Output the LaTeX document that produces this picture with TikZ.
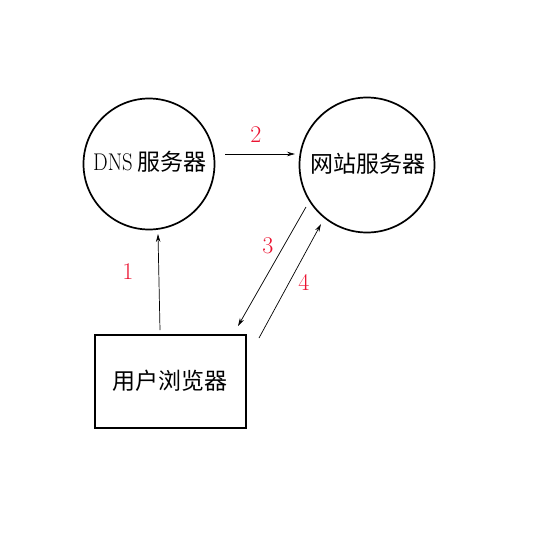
\documentclass[tikz,border=0pt]{standalone}
\usepackage{fontspec}
\newfontfamily\cjk{Noto Sans CJK SC}
\usetikzlibrary{arrows.meta}
\definecolor{lblred}{RGB}{235,20,50}
\begin{document}
\begin{tikzpicture}[x=1pt,y=-1pt,
  circ/.style={draw,circle,line width=1.7pt,minimum size=131pt,inner sep=0pt},
  boxn/.style={draw,rectangle,line width=1.6pt,minimum width=151pt,minimum height=93pt,inner sep=0pt},
  conn/.style={line width=0.7pt,-{Stealth[length=8pt,width=4.5pt]}},
  lbl/.style={text=lblred,font=\fontsize{24}{26}\selectfont},
  txt/.style={font=\fontsize{23}{25}\selectfont}]
\useasboundingbox (0,0) rectangle (555,555);
\node[circ] (dns) at (149,164) {};
\node[txt] (dnst) at (150,162) {\scalebox{0.9}[1.05]{DNS}\hspace{5pt}{\cjk 服务器}};
\node[circ,minimum size=135pt] (web) at (367,165) {};
\node[txt] (webt) at (368,164) {\cjk 网站服务器};
\node[boxn] (br) at (170.5,381.5) {};
\node[txt] (brt) at (170,381) {\cjk 用户浏览器};
\coordinate (a1s) at (160,330);
\coordinate (a1e) at (158,234);
\coordinate (a2s) at (225,154);
\coordinate (a2e) at (295,154);
\coordinate (a3s) at (306,207);
\coordinate (a3e) at (238,326);
\coordinate (a4s) at (259,338);
\coordinate (a4e) at (321,224);
\draw[conn] (a1s) -- (a1e);
\draw[conn] (a2s) -- (a2e);
\draw[conn] (a3s) -- (a3e);
\draw[conn] (a4s) -- (a4e);
\node[lbl] (l1) at (128,272) {1};
\node[lbl] (l2) at (256,135) {2};
\node[lbl] (l3) at (268,246) {3};
\node[lbl] (l4) at (304,282) {4};
\end{tikzpicture}
\end{document}
